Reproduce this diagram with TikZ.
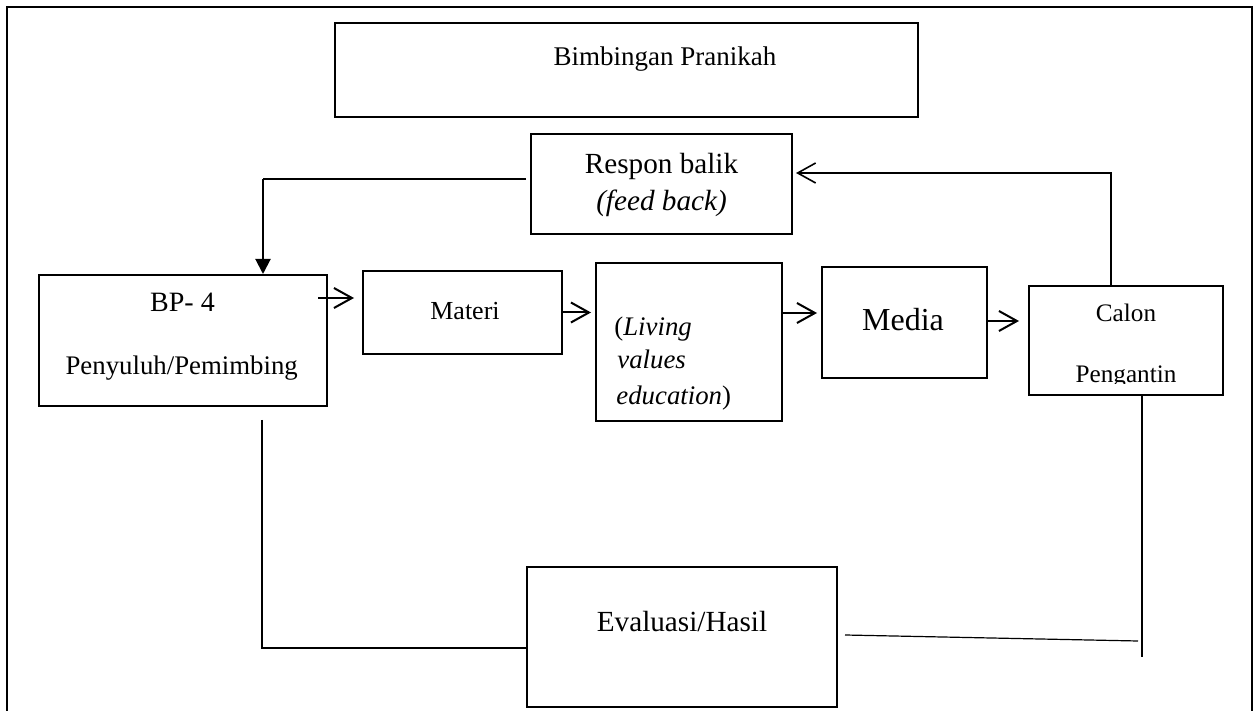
\documentclass[tikz,border=0pt]{standalone}
\usepackage{fontspec}
\setmainfont{Liberation Serif}
\usetikzlibrary{arrows.meta,calc}
\newcommand{\fsz}[1]{\fontsize{#1}{#1}\selectfont}
\tikzset{
	box/.style={draw, line width=1pt, inner sep=0pt},
	txt/.style={inner sep=0pt, anchor=base},
	arr/.style={line width=1pt, -{Straight Barb[length=9pt,width=10pt]}},
	thinline/.style={line width=0.6pt}
}
\begin{document}
\begin{tikzpicture}[x=0.5pt,y=-0.5pt]
				\useasboundingbox (0,0) rectangle (1254,711);
				\clip (0,0) rectangle (1254,711); % Frame runs off the page at the bottom
				\draw[line width=0.9pt] (7,730) -- (7,7) -- (1252,7) -- (1252,730);
				
				% The boxes
				\node[box, minimum width=291.5pt, minimum height=47pt] (bimbingan) at (626.5,70) {};
				\node[box, minimum width=130.5pt, minimum height=50pt] (respon) at (661.5,184) {};
				\node[box, minimum width=144pt, minimum height=65.5pt] (bp) at (183,340.5) {};
				\node[box, minimum width=99.5pt, minimum height=41.5pt] (materi) at (462.5,312.5) {};
				\node[box, minimum width=93pt, minimum height=79pt] (living) at (689,342) {};
				\node[box, minimum width=82.5pt, minimum height=55.5pt] (media) at (904.5,322.5) {};
				\node[box, minimum width=97pt, minimum height=54.5pt] (calon) at (1126,340.5) {};
				\node[box, minimum width=155pt, minimum height=70pt] (evaluasi) at (682,637) {};
				
				% The texts
				\node[txt, font=\fsz{13.5}] (bimbingan-t) at (665,66) {Bimbingan Pranikah};
				\node[txt, font=\fsz{14.6}] (respon-a) at (661.5,173.3) {Respon balik};
				\node[txt, font=\fsz{14.6}] (respon-b) at (661.5,210.7) {\textit{(feed back)}};
				\node[txt, font=\fsz{14}] (bp-a) at (182.5,312) {BP- 4};
				\node[txt, font=\fsz{13.4}] (bp-b) at (181.7,375) {Penyuluh/Pemimbing};
				\node[txt, font=\fsz{13}] (materi-t) at (465,320) {Materi};
				\node[txt, anchor=base west, font=\fsz{13.4}] (living-a) at (614,336) {(\textit{Living}};
				\node[txt, anchor=base west, font=\fsz{13.4}] (living-b) at (617,369) {\textit{values}};
				\node[txt, anchor=base west, font=\fsz{13.4}] (living-c) at (616,405) {\textit{education})};
				\node[txt, font=\fsz{16}] (media-t) at (903,331) {Media};
				\node[txt, font=\fsz{12.6}] (calon-a) at (1126,321.7) {Calon};
				\begin{scope}
					\clip (1029,286) rectangle (1223,384); % Second line is cut off by the box
					\node[txt, font=\fsz{12.6}] (calon-b) at (1126,383) {Pengantin};
				\end{scope}
				\node[txt, font=\fsz{14.6}] (evaluasi-t) at (682,631.7) {Evaluasi/Hasil};
				
				% Forward arrows
				\draw[arr] ($(bp.east)+(-10,-42.5)$) -- ($(materi.west)+(-8,-14.5)$);
				\draw[arr] (materi.east) -- ($(materi.east -| living.west)+(-4,0)$);
				\draw[arr] ($(living.east |- media.west)+(0,-9.5)$) -- ($(media.west)+(-4,-9.5)$);
				\draw[arr] ($(media.east)+(0,-1.5)$) -- ($(media.east -| calon.west)+(-9,-1.5)$);
				
				% Feed back loop
				\draw[line width=0.8pt, -{Straight Barb[length=9pt,width=10pt]}]
				($(calon.north)+(-15,0)$) |- ($(respon.east)+(3,-11)$);
				\coordinate (fbcorner) at (263,179);
				\draw[thinline] ($(respon.west)+(-4,-5)$) -- (fbcorner);
				\draw[line width=1pt, -{Triangle[length=7.5pt,width=7.5pt]}] (fbcorner) -- (fbcorner |- bp.north);
				
				% Lines to the evaluation
				\draw[thinline] ($(bp.south)+(79,13)$) |- ($(evaluasi.west)+(0,11)$);
				\coordinate (pengcorner) at (1142,657);
				\draw[thinline] ($(calon.south)+(16,0)$) -- (pengcorner);
				\draw[thinline] ($(evaluasi.east)+(7,-2)$) -- ($(pengcorner)+(-4,-16)$);
				
\end{tikzpicture}
\end{document}
